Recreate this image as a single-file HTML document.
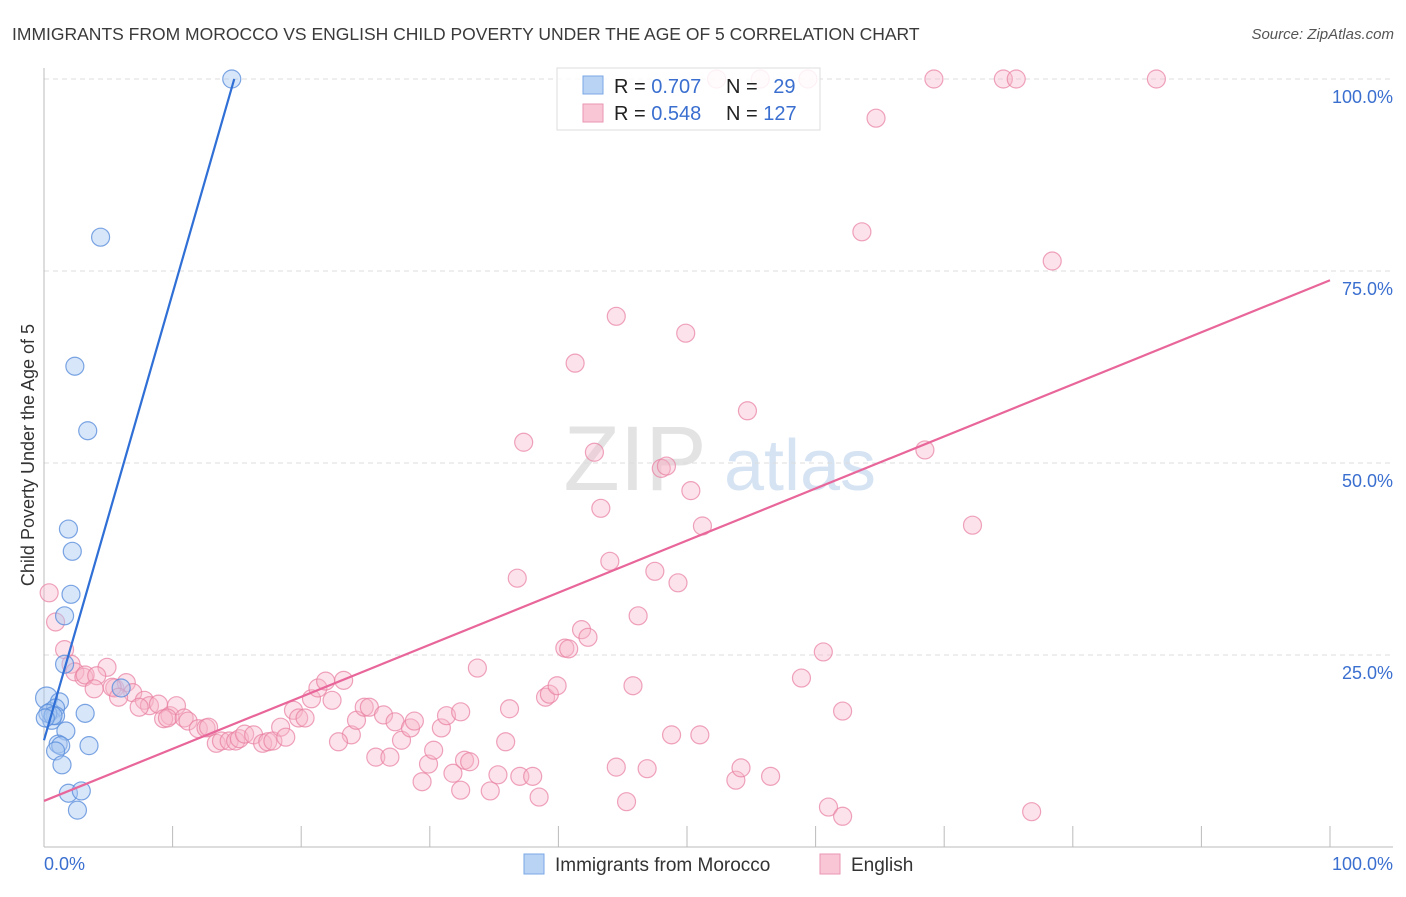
<!DOCTYPE html>
<html><head><meta charset="utf-8"><style>
body{margin:0;background:#fff;font-family:"Liberation Sans",sans-serif;}
svg text{font-family:"Liberation Sans",sans-serif;}
</style></head><body>
<svg id="chart" width="1406" height="892" viewBox="0 0 1406 892">
<text x="12" y="40" font-size="17.5" fill="#3a3a3a">IMMIGRANTS FROM MOROCCO VS ENGLISH CHILD POVERTY UNDER THE AGE OF 5 CORRELATION CHART</text>
<text x="1394" y="39" font-size="15" fill="#555" font-style="italic" text-anchor="end">Source: ZipAtlas.com</text>
<g>
<text x="635" y="490" font-size="92" font-family="Liberation Serif" fill="#d8d8d8" text-anchor="middle" opacity="0.7">ZIP</text>
<text x="800" y="490" font-size="72" fill="#c5d8ef" text-anchor="middle" opacity="0.7">atlas</text>
</g>
<g id="grid"></g>
<g id="axes"></g>
<g id="pts"></g>
<g id="lines"></g>
<text transform="translate(34,455) rotate(-90)" font-size="18" fill="#333" text-anchor="middle">Child Poverty Under the Age of 5</text>
<g>
<rect x="557" y="68" width="263" height="62" fill="#fff" fill-opacity="0.85" stroke="#ddd"/>
<rect x="583" y="76" width="20" height="18" fill="#b9d3f5" stroke="#7aa7e6"/>
<rect x="583" y="104" width="20" height="18" fill="#f9c6d6" stroke="#eb95b2"/>
<text x="614" y="93" font-size="20" fill="#222">R = <tspan fill="#3a6fd0">0.707</tspan></text>
<text x="726" y="93" font-size="20" fill="#222">N = <tspan fill="#3a6fd0" dx="10">29</tspan></text>
<text x="614" y="120" font-size="20" fill="#222">R = <tspan fill="#3a6fd0">0.548</tspan></text>
<text x="726" y="120" font-size="20" fill="#222">N = <tspan fill="#3a6fd0">127</tspan></text>
</g>
<g>
<rect x="524" y="854" width="20" height="20" fill="#b9d3f5" stroke="#7aa7e6"/>
<text x="555" y="871" font-size="19" fill="#333">Immigrants from Morocco</text>
<rect x="820" y="854" width="20" height="20" fill="#f9c6d6" stroke="#eb95b2"/>
<text x="851" y="871" font-size="19" fill="#333">English</text>
</g>
</svg>
<script>
const yTicks=[25,50,75,100];
const yTickLabels=["25.0%","50.0%","75.0%","100.0%"];
const xTickCount=10;
const blueX=[14.6,4.4,2.4,3.4,1.9,2.2,2.1,1.6,1.6,0.2,1.2,0.5,0.9,0.6,0.9,3.2,6.0,1.7,1.1,1.3,3.5,0.9,1.4,1.9,2.9,2.6,0.3,0.7,0.1];
const blueY=[100,79.4,62.6,54.2,41.4,38.5,32.9,30.1,23.8,19.4,18.9,17.6,18.1,16.5,17.1,17.4,20.7,15.1,13.4,13.2,13.2,12.5,10.7,7.0,7.3,4.8,17.4,17.1,16.8];
const pinkX=[52.3,55.7,59.4,69.2,74.6,75.6,86.5,64.7,63.6,78.4,44.5,49.9,41.3,54.7,37.3,42.8,68.5,48.0,48.4,50.3,43.3,51.2,72.2,44.0,47.5,36.8,49.3,46.2,41.8,42.3,40.5,40.8,60.6,0.4,0.9,1.6,2.1,2.4,3.1,3.2,4.9,4.1,3.9,5.5,6.4,5.3,6.9,5.8,7.8,8.2,8.9,7.4,9.8,10.3,9.3,9.6,10.9,11.2,12.0,12.6,12.8,13.4,13.8,14.4,14.9,15.2,15.6,16.3,17.0,17.4,17.8,18.4,18.8,19.4,19.8,20.3,20.8,21.3,21.9,22.4,23.3,23.9,22.9,24.3,24.9,25.3,25.8,26.4,26.9,27.3,27.8,28.5,28.8,29.4,29.9,30.3,30.9,31.3,32.4,31.8,32.4,32.7,33.1,33.7,34.7,35.3,35.9,36.2,37.0,38.0,38.5,39.0,39.3,39.9,44.5,45.3,45.8,46.9,48.8,51.0,53.8,54.2,56.5,58.9,61.0,62.1,62.1,76.8];
const pinkY=[100,100,100,100,100,100,100,94.9,80.1,76.3,69.1,66.9,63.0,56.8,52.7,51.4,51.7,49.3,49.6,46.4,44.1,41.8,41.9,37.2,35.9,35.0,34.4,30.1,28.3,27.3,25.9,25.8,25.4,33.1,29.3,25.7,23.8,22.8,22.1,22.4,23.4,22.3,20.6,20.7,21.4,20.8,20.1,19.5,19.1,18.4,18.6,18.2,17.1,18.4,16.7,16.8,16.8,16.4,15.4,15.5,15.6,13.5,13.8,13.8,13.8,14.1,14.7,14.6,13.5,13.7,13.8,15.6,14.3,17.8,16.8,16.8,19.3,20.7,21.6,19.1,21.7,14.6,13.7,16.5,18.2,18.2,11.7,17.2,11.7,16.3,13.9,15.5,16.4,8.5,10.8,12.6,15.5,17.1,17.6,9.6,7.4,11.3,11.1,23.3,7.3,9.4,13.7,18.0,9.2,9.2,6.5,19.5,19.9,21.0,10.4,5.9,21.0,10.2,14.6,14.6,8.7,10.3,9.2,22.0,5.2,4.0,17.7,4.6];
const blueFit=[13.9,5.82];
const pinkFit=[6.0,0.678];
const NS="http://www.w3.org/2000/svg";
const X0=44,X1=1330,Y0=847,Y1=79;
const sx=v=>X0+(X1-X0)*v/100;
const sy=v=>Y0-(Y0-Y1)*v/100;
function mk(tag,attrs,parent){const e=document.createElementNS(NS,tag);for(const k in attrs)e.setAttribute(k,attrs[k]);parent.appendChild(e);return e;}
const grid=document.getElementById('grid'),axes=document.getElementById('axes'),pts=document.getElementById('pts'),lines=document.getElementById('lines');
yTicks.forEach((t,i)=>{
 const l=mk('line',{x1:X0,x2:1393,y1:sy(t),y2:sy(t),stroke:'#ddd','stroke-dasharray':'5,4'},grid);
 
 
 const tx=mk('text',{x:1393,y:sy(t)+24,'font-size':18,fill:'#3a6fd0','text-anchor':'end'},axes);
 tx.textContent=yTickLabels[i];
 
 
});
const ya=mk('line',{x1:X0,x2:X0,y1:68,y2:Y0,stroke:'#bbb'},axes);


const xa=mk('line',{x1:X0,x2:1393,y1:Y0,y2:Y0,stroke:'#bbb'},axes);


for(let i=0;i<=xTickCount;i++){
 const tk=mk('line',{x1:sx(i*10),x2:sx(i*10),y1:826,y2:Y0,stroke:'#bbb'},axes);
 
 
}
const xl0=mk('text',{x:X0,y:870,'font-size':18,fill:'#3a6fd0'},axes);xl0.textContent='0.0%';


const xl1=mk('text',{x:1393,y:870,'font-size':18,fill:'#3a6fd0','text-anchor':'end'},axes);xl1.textContent='100.0%';


pinkX.forEach((v,i)=>{
 const c=mk('circle',{cx:sx(v),cy:sy(pinkY[i]),r:9,fill:'#f7b6ca','fill-opacity':0.4,stroke:'#e87ea0','stroke-opacity':0.7,'stroke-width':1.2},pts);
 
 
});
blueX.forEach((v,i)=>{
 const c=mk('circle',{cx:sx(v),cy:sy(blueY[i]),r:i==9?11:9,fill:'#a9c8f2','fill-opacity':0.45,stroke:'#5b8fdc','stroke-opacity':0.8,'stroke-width':1.2},pts);
 
 
});
const bxEnd=(100-blueFit[0])/blueFit[1];
const bl=mk('line',{x1:sx(0),y1:sy(blueFit[0]),x2:sx(bxEnd),y2:sy(100),stroke:'#2f6fd6','stroke-width':2.2},lines);


const pl=mk('line',{x1:sx(0),y1:sy(pinkFit[0]),x2:sx(100),y2:sy(pinkFit[0]+pinkFit[1]*100),stroke:'#e8669a','stroke-width':2.2},lines);


</script>
</body></html>
